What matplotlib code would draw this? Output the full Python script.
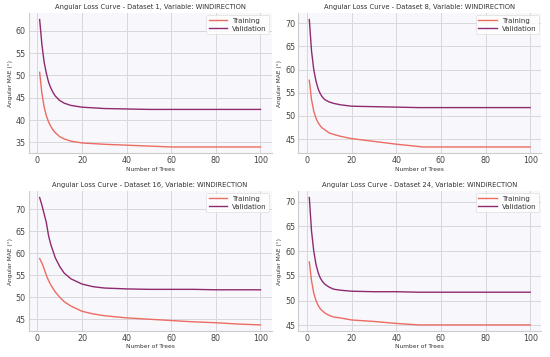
import matplotlib
matplotlib.use("Agg")
import matplotlib.pyplot as plt

datasets = [1, 8, 16, 24]

trees_1 = [1, 2, 3, 4, 5, 6, 7, 8, 10, 12, 15, 20, 30, 40, 50, 60, 80, 100]
train_1 = [50.7, 46.0, 43.0, 41.0, 39.6, 38.6, 37.8, 37.2, 36.3, 35.8, 35.3, 34.9, 34.6, 34.4, 34.2, 34.0, 34.0, 34.0]
valid_1 = [62.5, 57.0, 53.0, 50.5, 48.5, 47.2, 46.2, 45.4, 44.4, 43.8, 43.3, 42.9, 42.6, 42.5, 42.4, 42.4, 42.4, 42.4]

trees_8 = [1, 2, 3, 4, 5, 6, 7, 8, 10, 12, 15, 20, 30, 40, 50, 52, 60, 80, 100]
train_8 = [57.7, 53.5, 51.0, 49.5, 48.5, 47.8, 47.3, 47.0, 46.3, 46.0, 45.6, 45.1, 44.5, 43.9, 43.4, 43.3, 43.3, 43.3, 43.3]
valid_8 = [70.8, 64.0, 60.0, 57.5, 55.8, 54.7, 54.0, 53.5, 53.0, 52.7, 52.4, 52.1, 52.0, 51.9, 51.8, 51.8, 51.8, 51.8, 51.8]

trees_16 = [1, 2, 3, 4, 5, 6, 8, 10, 12, 15, 20, 25, 30, 40, 50, 60, 70, 80, 90, 100]
train_16 = [58.8, 57.8, 56.5, 55.0, 53.8, 52.8, 51.2, 50.0, 49.0, 48.0, 46.8, 46.2, 45.8, 45.3, 45.0, 44.7, 44.4, 44.2, 43.9, 43.7]
valid_16 = [72.7, 71.0, 69.0, 67.0, 64.0, 62.0, 59.0, 57.0, 55.5, 54.2, 53.0, 52.4, 52.1, 51.9, 51.8, 51.8, 51.8, 51.7, 51.7, 51.7]

trees_24 = [1, 2, 3, 4, 5, 6, 7, 8, 10, 12, 15, 20, 30, 40, 50, 60, 80, 100]
train_24 = [57.8, 54.0, 51.5, 50.0, 49.0, 48.3, 47.9, 47.5, 47.0, 46.7, 46.5, 46.1, 45.8, 45.4, 45.1, 45.1, 45.1, 45.1]
valid_24 = [70.8, 64.0, 60.0, 57.3, 55.6, 54.5, 53.8, 53.3, 52.7, 52.3, 52.1, 51.9, 51.8, 51.8, 51.7, 51.7, 51.7, 51.7]

curves = [(trees_1, train_1, valid_1), (trees_8, train_8, valid_8),
          (trees_16, train_16, valid_16), (trees_24, train_24, valid_24)]

train_color = "#ec6b63"
valid_color = "#8e2a70"

plt.rcParams['font.family'] = ['DejaVu Sans']
fig, axes = plt.subplots(2, 2, figsize=(5.5, 3.57), dpi=100)
fig.subplots_adjust(left=0.052, right=0.984, top=0.963, bottom=0.072, wspace=0.11, hspace=0.27)

for ax, ds, (x, tr, va) in zip(axes.flat, datasets, curves):
    ax.set_facecolor("#f8f8fc")
    ax.plot(x, tr, color=train_color, lw=1.0, label="Training")
    ax.plot(x, va, color=valid_color, lw=1.0, label="Validation")
    ax.set_title(f"Angular Loss Curve - Dataset {ds}, Variable: WINDIRECTION",
                 fontsize=4.9, color="#333333", pad=3)
    ax.set_xlabel("Number of Trees", fontsize=4.2, color="#333333", labelpad=1)
    ax.set_ylabel("Angular MAE (°)", fontsize=4.2, color="#333333", labelpad=2)
    ax.set_xticks([0, 20, 40, 60, 80, 100])
    ax.grid(True, color="#d8d8dc", lw=0.7)
    ax.set_axisbelow(True)
    ax.tick_params(labelsize=5.8, colors="#444444", length=0, pad=2)
    for s in ["top", "right"]:
        ax.spines[s].set_visible(False)
    for s in ["left", "bottom"]:
        ax.spines[s].set_color("#cccccc")
        ax.spines[s].set_linewidth(0.8)
    leg = ax.legend(loc="upper right", fontsize=5.0, frameon=True, borderpad=0.35,
                    handlelength=2.6, labelspacing=0.3, borderaxespad=0.3)
    leg.get_frame().set_edgecolor("#dddddd")
    leg.get_frame().set_linewidth(0.6)
    for t in leg.get_texts():
        t.set_color("#333333")

fig.savefig("out.png", dpi=100)
